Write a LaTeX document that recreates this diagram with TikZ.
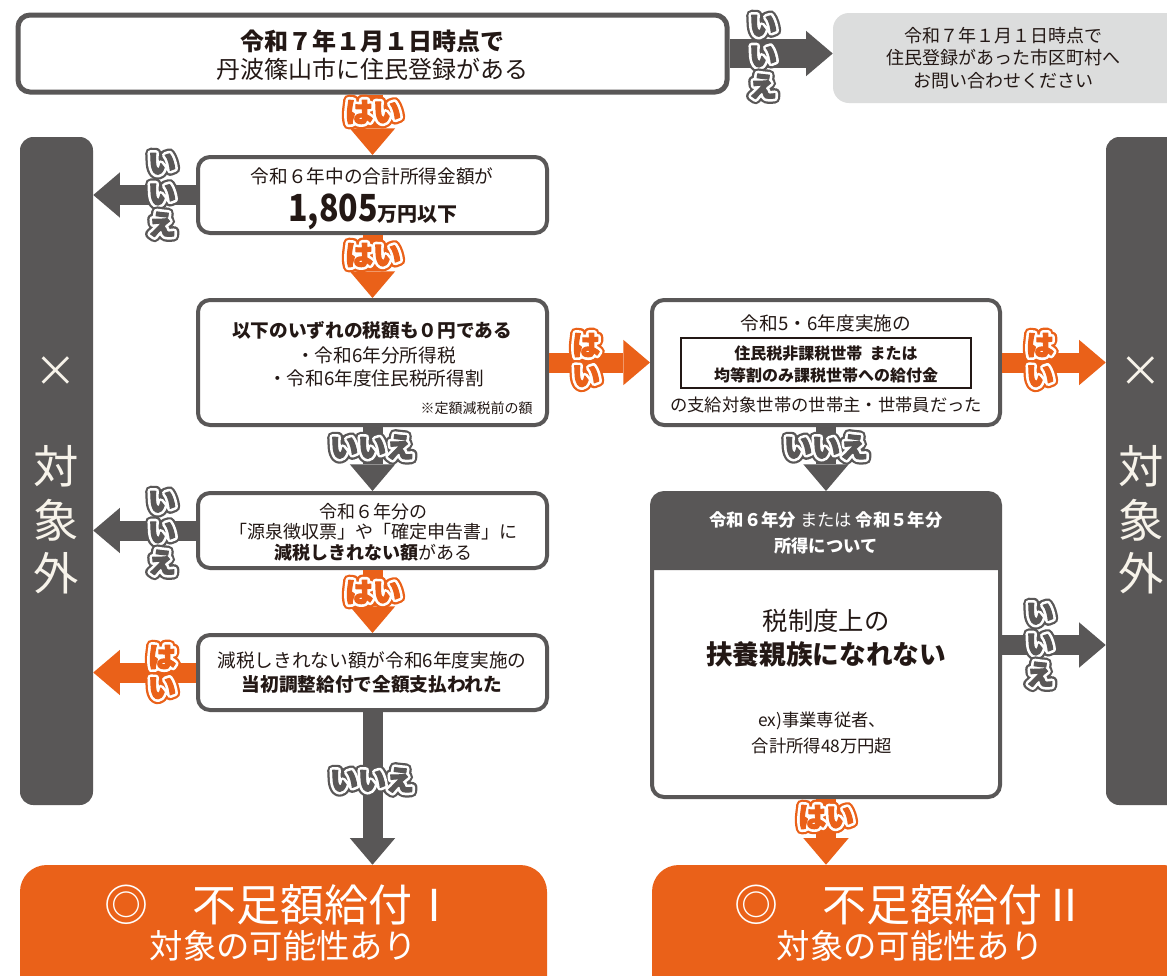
\documentclass[tikz,border=0pt]{standalone}
\usepackage{fontspec}
\setmainfont{Noto Sans CJK JP}
\usetikzlibrary{arrows.meta,fit}
\definecolor{orng}{HTML}{EA6119}
\definecolor{dgray}{HTML}{595757}
\definecolor{lgray}{HTML}{DCDDDD}
\definecolor{ink}{HTML}{231815}
\definecolor{cream}{HTML}{F7F3EA}
\newcommand\fs[2]{\fontsize{#1pt}{#2pt}\selectfont}
% outlined label: coloured outer ring, white ring, coloured emboldened letters
\newcommand\lab[2]{%
\makebox[0pt]{\special{pdf:literal direct 1 j 1 J 8.2 w 1 Tr}\textcolor{#1}{#2}\special{pdf:literal direct 0 Tr}}%
\makebox[0pt]{\special{pdf:literal direct 1 j 1 J 4.8 w 1 Tr}\textcolor{white}{#2}\special{pdf:literal direct 0 Tr}}%
\makebox[0pt]{\special{pdf:literal direct 0.8 w 2 Tr}\textcolor{#1}{#2}\special{pdf:literal direct 0 Tr 0 j 0 J 0.4 w}}}
\tikzset{
  box/.style={draw=dgray, line width=3pt, rounded corners=9pt, fill=white, inner sep=0pt},
  bar/.style={fill=dgray, rounded corners=10pt, inner sep=0pt},
  res/.style={fill=orng, rounded corners=20pt, inner sep=0pt},
  txt/.style={text=ink, inner sep=0pt, align=center},
  wtxt/.style={text=white, inner sep=0pt, align=center},
  lbl/.style={inner sep=0pt, align=center, font=\fs{21}{23}\bfseries},
  arr/.style={line width=15pt, -{Triangle[width=34pt,length=20pt,line width=0pt]}},
  yarr/.style={arr, draw=orng},
  narr/.style={arr, draw=dgray},
}
\begin{document}
\begin{tikzpicture}[x=0.75pt,y=-0.75pt]
\useasboundingbox (0,0) rectangle (1167,975);
\clip (0,0) rectangle (1167,975);
\fill[white] (0,0) rectangle (1167,975);

% boxes
\node[box, line width=3.75pt, fit={(18,15)(727,92)}] (top) {};
\node[fill=lgray, rounded corners=12pt, inner sep=0pt, fit={(833,13)(1190,103)}] (info) {};
\node[bar, fit={(20,137)(93,805)}] (lbar) {};
\node[bar, fit={(1106,137)(1190,805)}] (rbar) {};
\node[box, fit={(198,157)(547,233)}] (b2) {};
\node[box, fit={(198,300)(547,425)}] (b3) {};
\node[box, fit={(652,300)(1000,425)}] (b4) {};
\node[box, fit={(198,493)(547,568)}] (b5) {};
\node[box, fit={(198,635)(547,710)}] (b6) {};
\node[box, fit={(652,493)(1000,797)}] (b7) {};
\fill[dgray] (652,570) [rounded corners=9pt] -- (652,493) -- (1000,493) [sharp corners] -- (1000,570) -- cycle;
\node[res, fit={(20,865)(547,1010)}] (res1) {};
\node[res, fit={(652,865)(1190,1010)}] (res2) {};
\node[draw=ink, line width=1.5pt, inner sep=0pt, fit={(681,338)(971,388)}] (b4i) {};

% texts
\node[txt, font=\fs{18}{21}] (ttop) at (372,55) {\textbf{令和７年１月１日時点で}\\丹波篠山市に住民登録がある};
\node[txt, font=\fs{13.5}{17}] (tinfo) at (1003,58) {令和７年１月１日時点で\\住民登録があった市区町村へ\\お問い合わせください};
\node[wtxt, text=cream, font=\fs{32}{32}] (lx) at (56,372) {×};
\node[wtxt, text=cream, font=\fs{34}{40}] (lt) at (56,520) {対\\象\\外};
\node[wtxt, text=cream, font=\fs{32}{32}] (rx) at (1141,372) {×};
\node[wtxt, text=cream, font=\fs{34}{40}] (rt) at (1141,520) {対\\象\\外};
\node[txt, font=\fs{14}{14}] (t2a) at (372,176) {令和６年中の合計所得金額が};
\node[txt, font=\bfseries, anchor=base] (t2b) at (373,221) {\scalebox{0.86}[1]{\fs{28}{28}1,805}{\fs{15}{15}万円以下}};
\node[txt, font=\fs{14}{14}\bfseries] (t3a) at (372,330) {以下のいずれの税額も０円である};
\node[txt, font=\fs{14}{17.5}] (t3b) at (376,367) {・令和6年分所得税\\・令和6年度住民税所得割};
\node[txt, font=\fs{10.5}{10.5}, anchor=east] (t3c) at (533,408) {※定額減税前の額};
\node[txt, font=\fs{14}{14}] (t4a) at (826,323) {令和5・6年度実施の};
\node[txt, font=\fs{12}{16.5}\bfseries] (t4b) at (826,364) {住民税非課税世帯\ \ または\\均等割のみ課税世帯への給付金};
\node[txt, font=\fs{13}{13}] (t4c) at (826,405) {の支給対象世帯の世帯主・世帯員だった};
\node[txt, font=\fs{13.5}{15.5}] (t5) at (373,532) {令和６年分の\\「源泉徴収票」や「確定申告書」に\\\textbf{減税しきれない額}がある};
\node[txt, font=\fs{14}{18}] (t6) at (372,673) {減税しきれない額が令和6年度実施の\\\textbf{当初調整給付で全額支払われた}};
\node[wtxt, font=\fs{13}{19.5}] (t7a) at (826,533) {\textbf{令和６年分} または \textbf{令和５年分}\\\textbf{所得について}};
\node[txt, font=\fs{19}{25}] (t7b) at (826,638) {税制度上の\\{\fs{20}{25}\bfseries 扶養親族になれない}};
\node[txt, font=\fs{13}{19}] (t7c) at (822,733) {ex)事業専従者、\\合計所得48万円超};
\node[wtxt, font=\fs{33}{33}] (r1a) at (280,905) {◎　不足額給付Ⅰ};
\node[wtxt, font=\fs{25}{25}] (r1b) at (283,946) {対象の可能性あり};
\node[wtxt, font=\fs{33}{33}] (r2a) at (910,905) {◎　不足額給付Ⅱ};
\node[wtxt, font=\fs{25}{25}] (r2b) at (910,946) {対象の可能性あり};

% arrows
\draw[narr, line width=22pt] (top.east) -- (top.east -| info.west);
\draw[yarr] (top.south) -- (b2.north);
\draw[narr] (b2.west) -- (b2.west -| lbar.east);
\draw[yarr] (b2.south) -- (b3.north);
\draw[yarr] (b3.east) -- (b4.west);
\draw[yarr] (b4.east) -- (b4.east -| rbar.west);
\draw[narr] (b3.south) -- (b5.north);
\draw[narr] (b4.south) -- (b7.north);
\draw[narr] (b5.west) -- (b5.west -| lbar.east);
\draw[yarr] (b5.south) -- (b6.north);
\draw[yarr] (b6.west) -- (b6.west -| lbar.east);
\draw[narr] (b6.south) -- (b6.south |- res1.north);
\draw[narr] (b7.east) -- (b7.east -| rbar.west);
\draw[yarr] (b7.south) -- (b7.south |- res2.north);

% labels
\node[lbl] (L1) at (763,57) {\lab{dgray}{い}\\\lab{dgray}{い}\\\lab{dgray}{え}};
\node[lbl] (L2) at (373,112) {\lab{orng}{はい}};
\node[lbl] (L3) at (162,195) {\lab{dgray}{い}\\\lab{dgray}{い}\\\lab{dgray}{え}};
\node[lbl] (L4) at (373,255) {\lab{orng}{はい}};
\node[lbl] (L5) at (586,360) {\lab{orng}{は}\\\lab{orng}{い}};
\node[lbl] (L6) at (1040,360) {\lab{orng}{は}\\\lab{orng}{い}};
\node[lbl] (L7) at (372,447) {\lab{dgray}{いいえ}};
\node[lbl] (L8) at (826,447) {\lab{dgray}{いいえ}};
\node[lbl] (L9) at (162,533) {\lab{dgray}{い}\\\lab{dgray}{い}\\\lab{dgray}{え}};
\node[lbl] (L10) at (373,592) {\lab{orng}{はい}};
\node[lbl] (L11) at (162,672) {\lab{orng}{は}\\\lab{orng}{い}};
\node[lbl] (L12) at (372,780) {\lab{dgray}{いいえ}};
\node[lbl] (L13) at (1040,645) {\lab{dgray}{い}\\\lab{dgray}{い}\\\lab{dgray}{え}};
\node[lbl] (L14) at (826,817) {\lab{orng}{はい}};
\end{tikzpicture}
\end{document}
